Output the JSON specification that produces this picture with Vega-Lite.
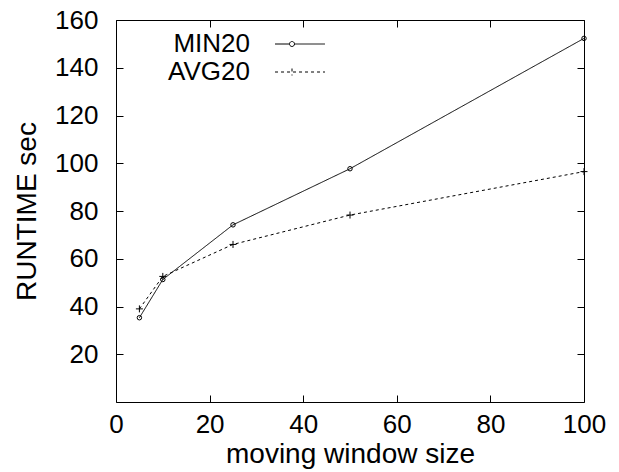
{
  "$schema": "https://vega.github.io/schema/vega-lite/v6.json",
  "width": 468,
  "height": 382,
  "autosize": {"type": "none"},
  "padding": {"left": 116, "top": 20, "right": 35, "bottom": 70},
  "background": "white",
  "config": {
    "view": {"stroke": "black", "strokeWidth": 1},
    "font": "Liberation Sans",
    "axis": {
      "grid": false,
      "domain": false,
      "tickColor": "black",
      "tickSize": -7,
      "tickWidth": 1,
      "labelFlush": false,
      "labelOverlap": false,
      "labelFont": "Liberation Sans",
      "labelFontSize": 26,
      "labelColor": "black",
      "titleFont": "Liberation Sans",
      "titleFontSize": 28,
      "titleFontWeight": "normal",
      "titleColor": "black"
    }
  },
  "data": {
    "values": [
      {"series": "MIN20", "x": 5, "y": 35.3},
      {"series": "MIN20", "x": 10, "y": 51.3},
      {"series": "MIN20", "x": 25, "y": 74.2},
      {"series": "MIN20", "x": 50, "y": 97.7},
      {"series": "MIN20", "x": 100, "y": 152.3},
      {"series": "AVG20", "x": 5, "y": 39.0},
      {"series": "AVG20", "x": 10, "y": 52.6},
      {"series": "AVG20", "x": 25, "y": 66.0},
      {"series": "AVG20", "x": 50, "y": 78.3},
      {"series": "AVG20", "x": 100, "y": 96.5}
    ]
  },
  "layer": [
    {
      "mark": {"type": "line", "color": "black", "strokeWidth": 1},
      "encoding": {
        "x": {
          "field": "x", "type": "quantitative",
          "scale": {"domain": [0, 100], "nice": false, "zero": false},
          "axis": {"orient": "bottom", "values": [0, 20, 40, 60, 80, 100], "labelPadding": 16, "title": "moving window size", "titlePadding": 3}
        },
        "y": {
          "field": "y", "type": "quantitative",
          "scale": {"domain": [0, 160], "nice": false, "zero": false},
          "axis": {"orient": "left", "values": [20, 40, 60, 80, 100, 120, 140, 160], "labelPadding": 25, "title": "RUNTIME sec", "titlePadding": 13}
        },
        "strokeDash": {
          "field": "series", "type": "nominal",
          "scale": {"domain": ["MIN20", "AVG20"], "range": [[1, 0], [3, 3]]},
          "legend": {
            "orient": "none",
            "legendX": 171,
            "legendY": 11,
            "title": null,
            "padding": 0,
            "symbolType": "M-4,0L4,0",
            "symbolSize": 156,
            "symbolStrokeWidth": 1,
            "symbolStrokeColor": "black",
            "symbolFillColor": "transparent",
            "labelAlign": "right",
            "labelOffset": -63,
            "labelFont": "Liberation Sans",
            "labelFontSize": 26,
            "labelColor": "black",
            "labelLimit": 300,
            "rowPadding": 2,
            "encode": {
              "symbols": {
                "update": {
                  "shape": {"signal": "datum.value === 'MIN20' ? 'M-4,0L-1.68,0M-0.88,0L4,0M-0.88,0A0.4,0.4 0 1 1 -1.68,0A0.4,0.4 0 1 1 -0.88,0' : 'M-4,0L4,0M-1.28,-0.56L-1.28,0.56'"},
                  "stroke": {"value": "black"},
                  "strokeWidth": {"value": 1}
                }
              }
            }
          }
        }
      }
    },
    {
      "transform": [{"filter": "datum.series === 'MIN20'"}],
      "mark": {"type": "point", "shape": "circle", "size": 20, "filled": false, "color": "black", "strokeWidth": 1, "opacity": 1},
      "encoding": {
        "x": {
          "field": "x", "type": "quantitative",
          "axis": {"orient": "top", "values": [0, 20, 40, 60, 80, 100], "labels": false, "title": null}
        },
        "y": {
          "field": "y", "type": "quantitative",
          "axis": {"orient": "right", "values": [20, 40, 60, 80, 100, 120, 140, 160], "labels": false, "title": null}
        }
      }
    },
    {
      "transform": [{"filter": "datum.series === 'AVG20'"}],
      "mark": {"type": "point", "shape": "M-1,0L1,0M0,-1L0,1", "size": 49, "filled": false, "color": "black", "strokeWidth": 1, "opacity": 1},
      "encoding": {
        "x": {"field": "x", "type": "quantitative", "axis": null},
        "y": {"field": "y", "type": "quantitative", "axis": null}
      }
    }
  ],
  "resolve": {"axis": {"x": "independent", "y": "independent"}}
}
